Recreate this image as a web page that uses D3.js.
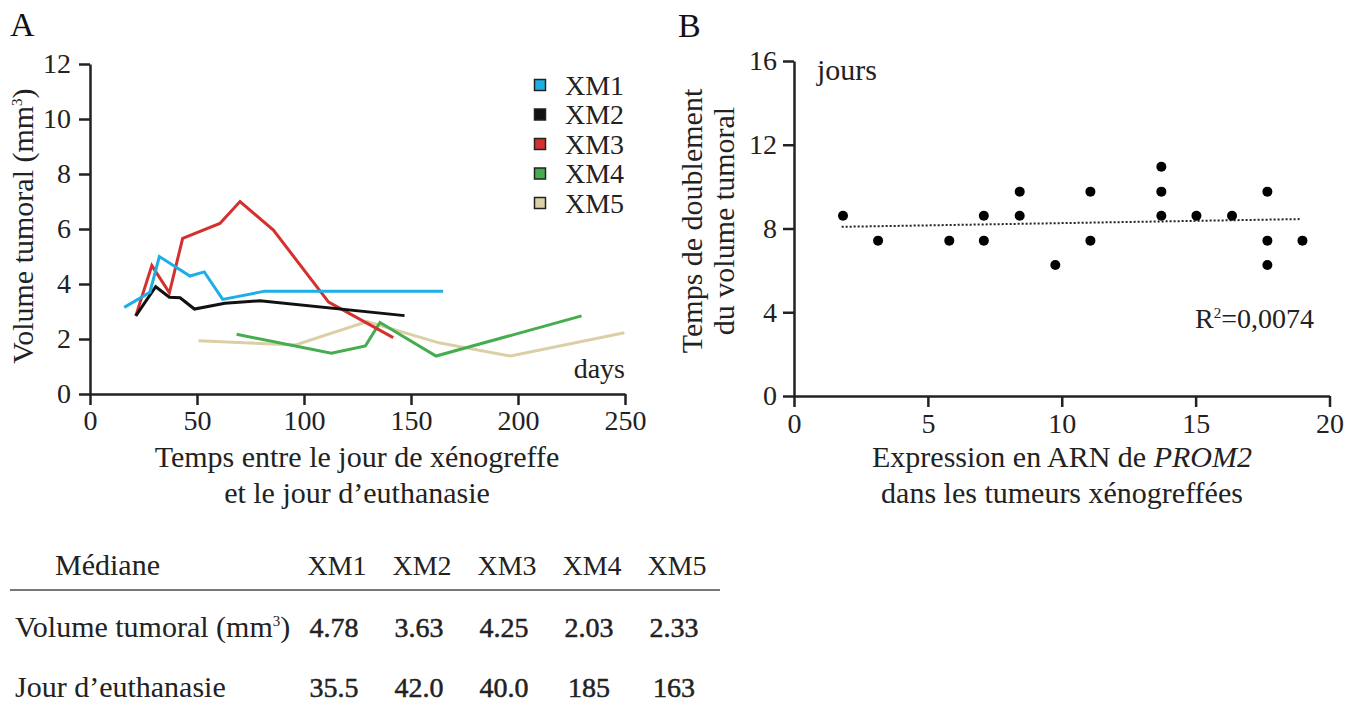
<!DOCTYPE html>
<html>
<head>
<meta charset="utf-8">
<script src="https://cdn.jsdelivr.net/npm/d3@7"></script>
<style>
  body { margin: 0; background: #fff; }
  svg { font-family: "Liberation Serif", serif; }
  .axis path, .axis line { stroke: #222; stroke-width: 2.5; }
  .axis text { font-family: "Liberation Serif", serif; font-size: 28px; fill: #222; }
  .label { font-size: 30px; fill: #222; }
  .small { font-size: 28px; fill: #222; }
</style>
</head>
<body>
<div id="chart"></div>
<script>
// panel A: tumour volume over time for each xenograft line
const seriesNames = ["XM1", "XM2", "XM3", "XM4", "XM5"];
const seriesColors = ["#1eaee6", "#111111", "#d3302f", "#45ad4e", "#dccfa6"];

const xm1Days = [16, 28, 32.4, 46.7, 53.4, 62, 81.8, 165];
const xm1Volume = [3.15, 3.7, 5.0, 4.29, 4.44, 3.44, 3.74, 3.74];
const xm2Days = [21.4, 30.7, 37.1, 42.1, 48.8, 63, 79.4, 147];
const xm2Volume = [2.84, 3.9, 3.52, 3.5, 3.09, 3.3, 3.39, 2.85];
const xm3Days = [21.4, 28.9, 37.1, 43.3, 60.7, 70.1, 85.7, 111.5, 141.7];
const xm3Volume = [2.84, 4.67, 3.68, 5.66, 6.2, 7.0, 5.96, 3.34, 2.05];
const xm4Days = [68.5, 112.8, 128.7, 135.5, 161.7, 229.7];
const xm4Volume = [2.17, 1.48, 1.75, 2.6, 1.38, 2.84];
const xm5Days = [50.7, 96, 129.5, 163, 196.6, 249.7];
const xm5Volume = [1.94, 1.78, 2.63, 1.86, 1.38, 2.23];

const daysTicks = [0, 50, 100, 150, 200, 250];
const volumeTicks = [0, 2, 4, 6, 8, 10, 12];

// median table
const medianVolume = ["4.78", "3.63", "4.25", "2.03", "2.33"];
const medianEuthanasia = ["35.5", "42.0", "40.0", "185", "163"];

// panel B: doubling time vs PROM2 expression
const prom2Expression = [1.83, 3.14, 5.8, 7.09, 7.09, 8.43, 8.43, 9.76, 11.07, 11.07,
  13.72, 13.72, 13.72, 15.03, 16.36, 17.68, 17.68, 17.68, 18.99];
const doublingTime = [8.61, 7.42, 7.42, 8.61, 7.42, 9.76, 8.61, 6.26, 9.76, 7.42,
  10.95, 9.76, 8.61, 8.61, 8.61, 9.76, 7.42, 6.26, 7.42];
const trendExpression = [1.78, 18.94];
const trendDoubling = [8.08, 8.45];
const expressionTicks = [0, 5, 10, 15, 20];
const doublingTicks = [0, 4, 8, 12, 16];

const series = [
  [xm1Days, xm1Volume], [xm2Days, xm2Volume], [xm3Days, xm3Volume],
  [xm4Days, xm4Volume], [xm5Days, xm5Volume]
].map(([d, v], i) => ({
  name: seriesNames[i], color: seriesColors[i],
  points: d.map((day, j) => ({ day, vol: v[j] }))
}));

const svg = d3.select("#chart").append("svg")
  .attr("width", 1357).attr("height", 713);

const drawPanelA = () => {
  const x = d3.scaleLinear().domain([0, 250]).range([90, 625]);
  const y = d3.scaleLinear().domain([0, 12]).range([394, 64]);

  svg.append("g").attr("class", "axis")
    .attr("transform", "translate(0,394)")
    .call(d3.axisBottom(x).tickValues(daysTicks).tickSize(11).tickSizeOuter(0).tickPadding(5));
  svg.append("g").attr("class", "axis")
    .attr("transform", "translate(90,0)")
    .call(d3.axisLeft(y).tickValues(volumeTicks).tickSize(11).tickSizeOuter(0).tickPadding(8));

  const line = d3.line().x(p => x(p.day)).y(p => y(p.vol));
  svg.append("g").selectAll("path")
    .data(series.slice().reverse())
    .join("path")
    .attr("d", s => line(s.points))
    .attr("fill", "none")
    .attr("stroke", s => s.color)
    .attr("stroke-width", 3);

  // legend
  const legend = svg.append("g").selectAll("g")
    .data(series).join("g")
    .attr("transform", (s, i) => `translate(540, ${85 + i * 29.5})`);
  legend.append("rect")
    .attr("x", -5.5).attr("y", -5.5).attr("width", 11).attr("height", 11)
    .attr("fill", s => s.color).attr("stroke", "#222").attr("stroke-width", 1.5);
  legend.append("text")
    .attr("class", "small").attr("x", 25).attr("y", 9.5)
    .text(s => s.name);

  svg.append("text").attr("class", "small").attr("font-size", 29)
    .attr("x", 625).attr("y", 378).attr("text-anchor", "end").text("days");

  svg.append("text").attr("class", "label")
    .attr("transform", "translate(33,226) rotate(-90)")
    .attr("text-anchor", "middle")
    .html("Volume tumoral (mm<tspan dy='-11' font-size='15'>3</tspan><tspan dy='11'>)</tspan>");

  svg.append("text").attr("class", "label")
    .attr("x", 357).attr("y", 467).attr("text-anchor", "middle")
    .text("Temps entre le jour de xénogreffe");
  svg.append("text").attr("class", "label")
    .attr("x", 357).attr("y", 503).attr("text-anchor", "middle")
    .text("et le jour d\u2019euthanasie");

  svg.append("text").attr("x", 10).attr("y", 36)
    .attr("font-size", 34).attr("fill", "#111").text("A");
};

const drawTable = () => {
  const col = d3.scalePoint().domain(seriesNames).range([337, 677]);

  svg.append("text").attr("class", "label").attr("x", 55).attr("y", 575).text("Médiane");
  svg.append("g").selectAll("text").data(seriesNames).join("text")
    .attr("class", "small").attr("x", d => col(d)).attr("y", 575)
    .attr("text-anchor", "middle").text(d => d);

  svg.append("line").attr("x1", 10).attr("x2", 720).attr("y1", 590).attr("y2", 590)
    .attr("stroke", "#777").attr("stroke-width", 2);

  svg.append("text").attr("class", "label").attr("x", 15).attr("y", 637)
    .html("Volume tumoral (mm<tspan dy='-11' font-size='15'>3</tspan><tspan dy='11'>)</tspan>");
  svg.append("g").selectAll("text").data(medianVolume).join("text")
    .attr("class", "small").attr("x", (d, i) => col(seriesNames[i]) - 3).attr("y", 637)
    .attr("text-anchor", "middle").attr("stroke", "#222").attr("stroke-width", 0.5)
    .text(d => d);

  svg.append("text").attr("class", "label").attr("x", 15).attr("y", 697)
    .text("Jour d\u2019euthanasie");
  svg.append("g").selectAll("text").data(medianEuthanasia).join("text")
    .attr("class", "small").attr("x", (d, i) => col(seriesNames[i]) - 3).attr("y", 697)
    .attr("text-anchor", "middle").attr("stroke", "#222").attr("stroke-width", 0.5)
    .text(d => d);
};

const drawPanelB = () => {
  const x = d3.scaleLinear().domain([0, 20]).range([794, 1329.5]);
  const y = d3.scaleLinear().domain([0, 16]).range([396, 61]);

  svg.append("g").attr("class", "axis")
    .attr("transform", "translate(0,396)")
    .call(d3.axisBottom(x).tickValues(expressionTicks).tickSize(11).tickSizeOuter(0).tickPadding(6));
  svg.append("g").attr("class", "axis")
    .attr("transform", "translate(794,0)")
    .call(d3.axisLeft(y).tickValues(doublingTicks).tickSize(11).tickSizeOuter(0).tickPadding(6));

  svg.append("path")
    .datum(trendExpression.map((e, i) => [e, trendDoubling[i]]))
    .attr("d", d3.line().x(d => x(d[0])).y(d => y(d[1])))
    .attr("fill", "none").attr("stroke", "#222")
    .attr("stroke-width", 2).attr("stroke-dasharray", "2,2");

  svg.append("g").selectAll("circle")
    .data(prom2Expression.map((e, i) => [e, doublingTime[i]]))
    .join("circle")
    .attr("cx", d => x(d[0])).attr("cy", d => y(d[1]))
    .attr("r", 5).attr("fill", "#000");

  svg.append("text").attr("class", "label").attr("font-size", 31)
    .attr("x", 817).attr("y", 80).text("jours");
  svg.append("text").attr("class", "small").attr("x", 1195).attr("y", 328)
    .html("R<tspan dy='-10' font-size='15'>2</tspan><tspan dy='10'>=0,0074</tspan>");

  svg.append("text").attr("class", "label")
    .attr("transform", "translate(702,221) rotate(-90)")
    .attr("text-anchor", "middle").text("Temps de doublement");
  svg.append("text").attr("class", "label")
    .attr("transform", "translate(734,221) rotate(-90)")
    .attr("text-anchor", "middle").text("du volume tumoral");

  svg.append("text").attr("class", "label")
    .attr("x", 1062).attr("y", 467).attr("text-anchor", "middle")
    .html("Expression en ARN de <tspan font-style='italic'>PROM2</tspan>");
  svg.append("text").attr("class", "label")
    .attr("x", 1062).attr("y", 503).attr("text-anchor", "middle")
    .text("dans les tumeurs xénogreffées");

  svg.append("text").attr("x", 678).attr("y", 37)
    .attr("font-size", 34).attr("fill", "#111").text("B");
};

drawPanelA();
drawTable();
drawPanelB();
</script>
</body>
</html>
